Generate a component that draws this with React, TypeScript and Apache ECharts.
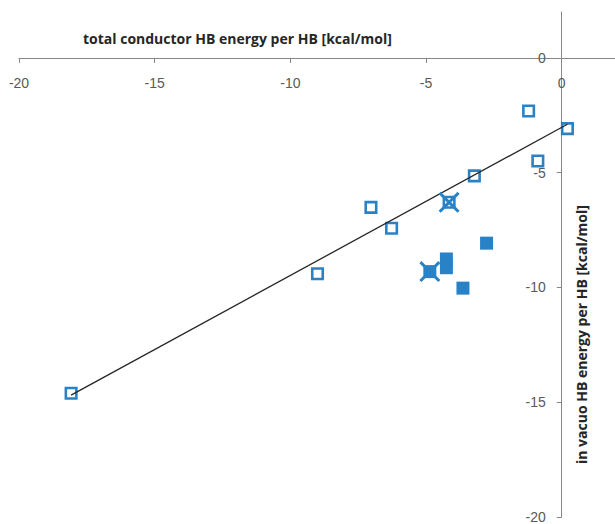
import React, { useEffect, useRef } from "react";
import * as echarts from "echarts";

// total conductor HB energy per HB (x) vs in vacuo HB energy per HB (y), kcal/mol
const openX = [-18.08, -9.0, -7.03, -6.27, -4.15, -3.22, -1.22, -0.88, 0.21];
const openY = [-14.61, -9.4, -6.51, -7.42, -6.29, -5.14, -2.31, -4.49, -3.08];
const filledX = [-4.86, -4.25, -4.25, -3.64, -2.77];
const filledY = [-9.31, -8.76, -9.14, -10.03, -8.07];
const markedX = [-4.15, -4.86];
const markedY = [-6.29, -9.31];
const tickValues = [-20, -15, -10, -5, 0];

const xTitle = "total conductor HB energy per HB [kcal/mol]";
const yTitle = "in vacuo HB energy per HB [kcal/mol]";

const BLUE = "#2A82C6";
const X_PATH =
  "path://M0,1 L1,0 L5,4 L9,0 L10,1 L6,5 L10,9 L9,10 L5,6 L1,10 L0,9 L4,5 Z";

const GRID = { left: 19, top: 12, width: 597, height: 505 };
const AX_MIN = -20;
const AX_MAX = 2;

function linearFit(xs: number[], ys: number[]) {
  const n = xs.length;
  const mx = xs.reduce((a, b) => a + b, 0) / n;
  const my = ys.reduce((a, b) => a + b, 0) / n;
  let sxy = 0;
  let sxx = 0;
  for (let i = 0; i < n; i++) {
    sxy += (xs[i] - mx) * (ys[i] - my);
    sxx += (xs[i] - mx) * (xs[i] - mx);
  }
  const slope = sxy / sxx;
  return { slope, intercept: my - slope * mx };
}

export default function App() {
  const ref = useRef<HTMLDivElement>(null);
  useEffect(() => {
    document.body.style.margin = "0";
    if (!ref.current) return;
    const chart = echarts.init(ref.current, null, { renderer: "svg" });
    const fit = linearFit(openX, openY);
    const x0 = Math.min(...openX);
    const x1 = Math.max(...openX);
    const trend = [
      [x0, fit.intercept + fit.slope * x0],
      [x1, fit.intercept + fit.slope * x1],
    ];
    // axes cross at zero: shift each axis from its grid edge to the zero line
    const span = AX_MAX - AX_MIN;
    const xOffset = -(GRID.height * (0 - AX_MIN)) / span; // bottom edge -> y = 0
    const yOffset = -(GRID.width * (0 - AX_MIN)) / span; // left edge -> x = 0
    const axisCommon = {
      type: "value" as const,
      min: AX_MIN,
      max: AX_MAX,
      interval: 5,
      splitLine: { show: false },
      axisLine: { onZero: false, lineStyle: { color: "#868686", width: 1 } },
      axisTick: {
        show: true,
        length: 5,
        customValues: tickValues,
        lineStyle: { color: "#868686" },
      },
      axisLabel: {
        customValues: tickValues,
        color: "#595959",
        fontSize: 14,
        fontFamily: "Liberation Sans",
      },
    };
    chart.setOption({
      animation: false,
      grid: {
        left: GRID.left,
        top: GRID.top,
        width: GRID.width,
        height: GRID.height,
        containLabel: false,
        outerBoundsMode: "none",
      },
      xAxis: {
        ...axisCommon,
        position: "bottom",
        offset: xOffset,
        axisLabel: { ...axisCommon.axisLabel, margin: 18 },
      },
      yAxis: {
        ...axisCommon,
        position: "left",
        offset: yOffset,
        axisLabel: { ...axisCommon.axisLabel, margin: 16 },
      },
      graphic: [
        {
          type: "text",
          left: 83,
          top: 31,
          style: {
            text: xTitle,
            fill: "#262626",
            font: "bold 14px 'Open Sans'",
          },
        },
        {
          type: "text",
          x: 574,
          y: 464,
          rotation: Math.PI / 2,
          style: {
            text: yTitle,
            fill: "#262626",
            font: "bold 14px 'Open Sans'",
            textAlign: "left",
            textVerticalAlign: "top",
          },
        },
      ],
      series: [
        {
          type: "scatter",
          symbol: "rect",
          symbolSize: 10.5,
          data: openX.map((x, i) => [x, openY[i]]),
          itemStyle: { color: "#ffffff", borderColor: BLUE, borderWidth: 2.6, opacity: 1 },
          z: 2,
        },
        {
          type: "scatter",
          symbol: "rect",
          symbolSize: 13,
          data: filledX.map((x, i) => [x, filledY[i]]),
          itemStyle: { color: BLUE, opacity: 1 },
          z: 2,
        },
        {
          type: "line",
          data: trend,
          showSymbol: false,
          symbol: "none",
          lineStyle: { color: "#262626", width: 1.3 },
          z: 3,
        },
        {
          type: "scatter",
          symbol: X_PATH,
          symbolSize: 21,
          data: markedX.map((x, i) => [x, markedY[i]]),
          itemStyle: { color: BLUE, opacity: 1 },
          z: 4,
        },
      ],
    });
    return () => chart.dispose();
  }, []);
  return <div ref={ref} style={{ width: 615, height: 524 }} />;
}
